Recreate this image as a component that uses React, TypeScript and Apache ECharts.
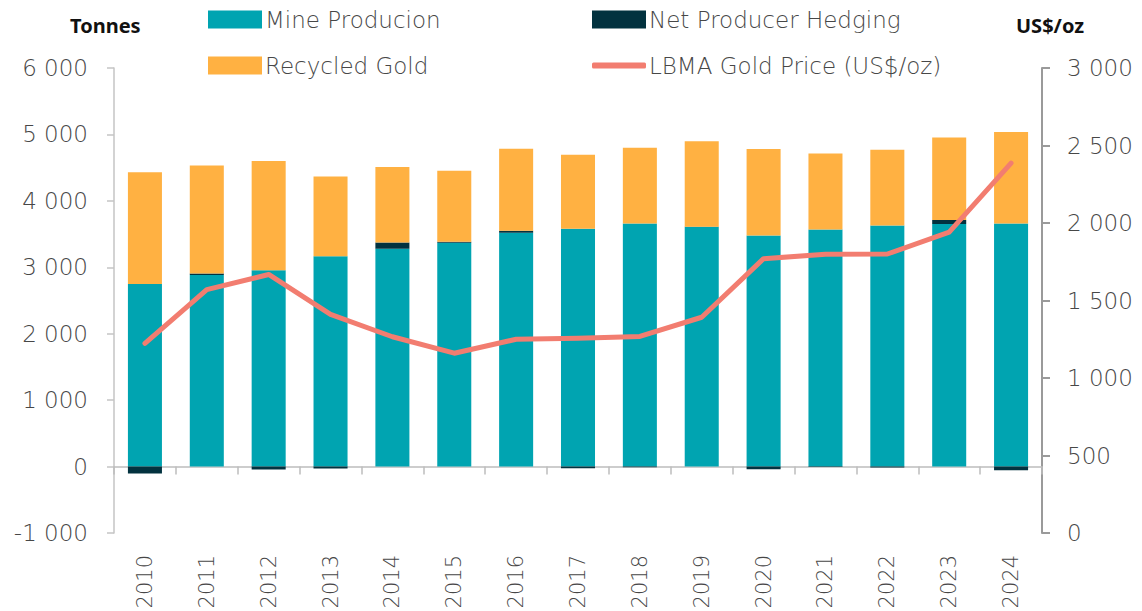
import React, { useEffect, useRef } from "react";
import * as echarts from "echarts";

const years = ["2010", "2011", "2012", "2013", "2014", "2015", "2016", "2017", "2018", "2019", "2020", "2021", "2022", "2023", "2024"];
const mineProduction = [2750, 2885, 2955, 3165, 3280, 3370, 3520, 3580, 3660, 3605, 3480, 3570, 3630, 3650, 3660];
const netHedging = [-106, 22, -45, -28, 95, 13, 30, -26, -12, 6, -39, -7, -13, 62, -57];
const recycledGold = [1682, 1626, 1645, 1200, 1135, 1070, 1235, 1115, 1140, 1285, 1300, 1144, 1140, 1240, 1377];
const goldPrice = [1224, 1570, 1668, 1410, 1266, 1160, 1250, 1257, 1268, 1392, 1770, 1799, 1800, 1941, 2386];

const leftTitle = "Tonnes";
const rightTitle = "US$/oz";
const names = ["Mine Producion", "Net Producer Hedging", "Recycled Gold", "LBMA Gold Price (US$/oz)"];

const fmt = (v: number) => {
  const s = String(Math.abs(v)).replace(/\B(?=(\d{3})+(?!\d))/g, " ");
  return (v < 0 ? "-" : "") + s;
};

const FONT = "'DejaVu Sans', sans-serif";
const TXT = "#474747";

export default function App() {
  const ref = useRef<HTMLDivElement>(null);
  useEffect(() => {
    if (!ref.current) return;
    const chart = echarts.init(ref.current, undefined, { renderer: "svg" });
    const legendBase = {
      orient: "horizontal",
      padding: 0,
      itemWidth: 54,
      itemHeight: 18,
      itemGap: 0,
      textStyle: { fontSize: 23, color: TXT, fontFamily: FONT, fontWeight: 200, padding: [0, 0, 0, -2] },
    };
    chart.setOption({
      animation: false,
      textStyle: { fontFamily: FONT },
      legend: [
        { ...legendBase, left: 208, top: 8, data: [{ name: names[0], icon: "rect" }] },
        { ...legendBase, left: 592, top: 8, data: [{ name: names[1], icon: "rect" }] },
        { ...legendBase, left: 208, top: 54, data: [{ name: names[2], icon: "rect" }] },
        { ...legendBase, left: 592, top: 54, itemHeight: 6, data: [{ name: names[3], icon: "roundRect" }] },
      ],
      graphic: [
        { type: "text", left: 70, top: 15, style: { text: leftTitle, fontSize: 20, fontWeight: "bold", fill: "#111", fontFamily: "'Noto Sans', sans-serif" } },
        { type: "text", left: 1016, top: 15, style: { text: rightTitle, fontSize: 20, fontWeight: "bold", fill: "#111", fontFamily: "'Noto Sans', sans-serif" } },
      ],
      grid: { left: 114, right: 100, top: 68, bottom: 78, containLabel: false, outerBoundsMode: "none" },
      xAxis: {
        type: "category",
        data: years,
        axisLine: { onZero: true, lineStyle: { color: "#bdbdbd", width: 1.5 } },
        axisTick: { show: true, length: 8, lineStyle: { color: "#bdbdbd", width: 1.5 } },
        axisLabel: { rotate: 90, margin: 22, fontSize: 21, color: TXT, fontFamily: FONT, fontWeight: 200 },
      },
      yAxis: [
        {
          type: "value",
          min: -1000,
          max: 6000,
          interval: 1000,
          splitLine: { show: false },
          axisLine: { show: true, lineStyle: { color: "#c4c4c4", width: 1.5 } },
          axisTick: { show: true, length: 7, lineStyle: { color: "#c4c4c4", width: 1.5 } },
          axisLabel: { margin: 26, fontSize: 23, color: TXT, fontFamily: FONT, fontWeight: 200, formatter: fmt },
        },
        {
          type: "value",
          position: "right",
          min: 0,
          max: 3000,
          interval: 500,
          splitLine: { show: false },
          axisLine: { show: true, lineStyle: { color: "#9a9a9a", width: 2 } },
          axisTick: { show: true, length: 8, lineStyle: { color: "#9a9a9a", width: 2 } },
          axisLabel: { margin: 25, fontSize: 23, color: TXT, fontFamily: FONT, fontWeight: 200, formatter: fmt },
        },
      ],
      series: [
        {
          name: names[0], type: "bar", stack: "supply", data: mineProduction, barWidth: "55%",
          itemStyle: { color: "#00A4B1" },
        },
        {
          name: names[1], type: "bar", stack: "supply", data: netHedging, barWidth: "55%",
          itemStyle: { color: "#02323F" },
        },
        {
          name: names[2], type: "bar", stack: "supply", data: recycledGold, barWidth: "55%",
          itemStyle: { color: "#FFB142" },
        },
        {
          name: names[3], type: "line", yAxisIndex: 1, data: goldPrice, symbol: "none", z: 5,
          lineStyle: { color: "#F27D70", width: 5, cap: "round", join: "round" },
          itemStyle: { color: "#F27D70" },
        },
      ],
    });
    return () => chart.dispose();
  }, []);
  return <div ref={ref} style={{ position: "absolute", left: 0, top: 0, width: 1142, height: 611 }} />;
}
